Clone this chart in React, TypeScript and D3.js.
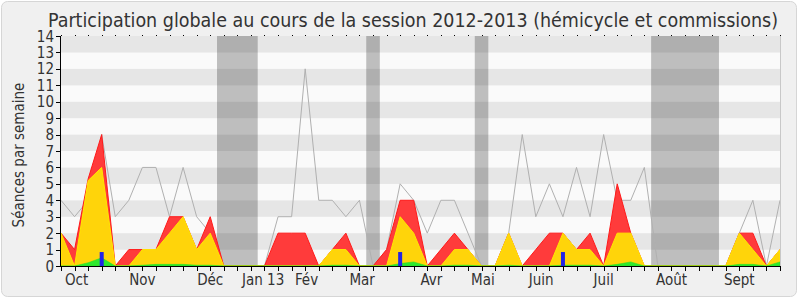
import React from "react";
import * as d3 from "d3";

// ---- data (weekly, index 0..53) ----
const totalRed: number[] = [2, 1, 5.3, 8, 0, 1, 1, 1, 3, 3, 1, 3, 0, 0, 0, 0, 2, 2, 2, 0, 1, 2, 0, 0, 1, 4, 4, 0, 1, 2, 1, 0, 0, 2, 0, 1, 2, 2, 1, 2, 0, 5, 2, 0, 0, 0, 0, 0, 0, 0, 2, 2, 0, 1];
const yellowVals: number[] = [2, 0, 5.2, 6, 0, 0, 1, 1, 2, 3, 1, 2, 0, 0, 0, 0, 0, 0, 0, 0, 1, 1, 0, 0, 0, 3, 2, 0, 0, 1, 1, 0, 0, 2, 0, 0, 0, 2, 1, 1, 0, 2, 2, 0, 0, 0, 0, 0, 0, 0, 2, 1, 0, 1];
const greenVals: number[] = [0, 0, 0.2, 0.5, 0, 0, 0.05, 0.1, 0.1, 0.1, 0.05, 0.05, 0, 0, 0, 0, 0, 0, 0, 0, 0.05, 0.05, 0, 0, 0, 0.15, 0.25, 0, 0, 0.05, 0.05, 0, 0, 0.05, 0, 0, 0, 0.05, 0.05, 0.05, 0, 0.1, 0.25, 0, 0, 0, 0, 0, 0, 0, 0.1, 0.1, 0, 0.25];
const blueVals: number[] = [0, 0, 0, 0.85, 0, 0, 0, 0, 0, 0, 0, 0, 0, 0, 0, 0, 0, 0, 0, 0, 0, 0, 0, 0, 0, 0.85, 0, 0, 0, 0, 0, 0, 0, 0, 0, 0, 0, 0.85, 0, 0, 0, 0, 0, 0, 0, 0, 0, 0, 0, 0, 0, 0, 0, 0];
const grayLine: number[] = [4, 3, 4, 8, 3, 4, 6, 6, 3, 6, 3, 2, 0, 0, 0, 0, 3, 3, 12, 4, 4, 3, 4, 0, 1, 5, 4, 2, 4, 4, 2, 0, 0, 2, 8, 3, 5, 3, 6, 3, 8, 4, 4, 6, 0, 0, 0, 0, 0, 0, 2, 4, 0, 4];

const monthLabels: string[] = ["Oct", "Nov", "Déc", "Jan 13", "Fév", "Mar", "Avr", "Mai", "Juin", "Juil", "Août", "Sept"];
const monthPos: number[] = [1.15, 6, 11, 14.9, 18.1, 22.2, 27.3, 31.1, 35.4, 40, 45, 50];
const vacations: [number, number][] = [[11.5, 14.5], [22.5, 23.5], [30.5, 31.5], [43.5, 48.5]];
const yTicks: number[] = d3.range(0, 15);

const FONT = "'DejaVu Sans Condensed', 'DejaVu Sans', sans-serif";

export default function App() {
  const n = totalRed.length;
  const idx = d3.range(n);
  const x = d3.scaleLinear().domain([0, n - 1]).range([61, 780]);
  const y = d3.scaleLinear().domain([0, 14]).range([266, 36]);

  const area = (vals: number[]) =>
    d3.area<number>().x((i) => x(i)).y0(y(0)).y1((i) => y(vals[i]))(idx) || "";
  const line = d3.line<number>().x((i) => x(i)).y((i) => y(grayLine[i]))(idx) || "";

  return (
    <svg width={800} height={300} style={{ position: "absolute", left: 0, top: 0 }} fontFamily={FONT}>
      <rect x={0} y={0} width={800} height={300} fill="#ffffff" />
      <rect x={1.5} y={1.5} width={795} height={295} rx={6} fill="#f0f0f0" stroke="#d6d6d6" />
      {/* stripes */}
      {d3.range(14).map((k) => (
        <rect key={"s" + k} x={x(0)} y={y(k + 1)} width={x(n - 1) - x(0)} height={y(k) - y(k + 1)} fill={k % 2 === 1 ? "#e6e6e6" : "#fafafa"} />
      ))}
      {/* vacations */}
      {vacations.map(([a, b], j) => (
        <rect key={"v" + j} x={x(a)} y={y(14)} width={x(b) - x(a)} height={y(0) - y(14)} fill="rgba(0,0,0,0.24)" />
      ))}
      {/* gray line */}
      <path d={line} fill="none" stroke="#b0b0b0" strokeWidth={1} />
      {/* areas */}
      <path d={area(totalRed)} fill="#ff3b3b" stroke="#ff1a1a" strokeWidth={1} />
      <path d={area(yellowVals)} fill="#ffd40a" stroke="#ffe800" strokeWidth={1} />
      <path d={area(greenVals)} fill="#2ee82e" stroke="#22dd22" strokeWidth={0.5} />
      {/* blue bars */}
      {idx.filter((i) => blueVals[i] > 0).map((i) => (
        <rect key={"b" + i} x={x(i) - 2} y={y(blueVals[i])} width={4} height={y(0) - y(blueVals[i])} fill="#2323e6" />
      ))}
      {/* right border */}
      <line x1={780.5} x2={780.5} y1={36} y2={266} stroke="#c8c8c8" />
      {/* top dots */}
      {idx.map((i) => (
        <rect key={"t" + i} x={Math.round(x(i))} y={35} width={1} height={1} fill="#000" />
      ))}
      {/* x axis */}
      <line x1={x(0)} x2={x(n - 1)} y1={266.5} y2={266.5} stroke="#000" />
      {idx.map((i) => (
        <line key={"xt" + i} x1={Math.round(x(i)) + 0.5} x2={Math.round(x(i)) + 0.5} y1={266} y2={271} stroke="#000" />
      ))}
      {monthLabels.map((m, j) => (
        <text key={"m" + j} x={x(monthPos[j])} y={285} textAnchor="middle" fontSize={15} fill="#333">{m}</text>
      ))}
      {/* y axis */}
      <line x1={60.5} x2={60.5} y1={36} y2={267} stroke="#000" />
      {yTicks.map((t) => (
        <g key={"yt" + t}>
          <line x1={56} x2={61} y1={Math.round(y(t)) + 0.5} y2={Math.round(y(t)) + 0.5} stroke="#000" />
          <text x={54} y={y(t) + 5.5} textAnchor="end" fontSize={15} fill="#333">{t}</text>
        </g>
      ))}
      <text transform="translate(24,155) rotate(-90)" textAnchor="middle" fontSize={15} fill="#333">Séances par semaine</text>
      <text x={413} y={27} textAnchor="middle" fontSize={19} fill="#333" textLength={730} lengthAdjust="spacingAndGlyphs">
        Participation globale au cours de la session 2012-2013 (hémicycle et commissions)
      </text>
    </svg>
  );
}
